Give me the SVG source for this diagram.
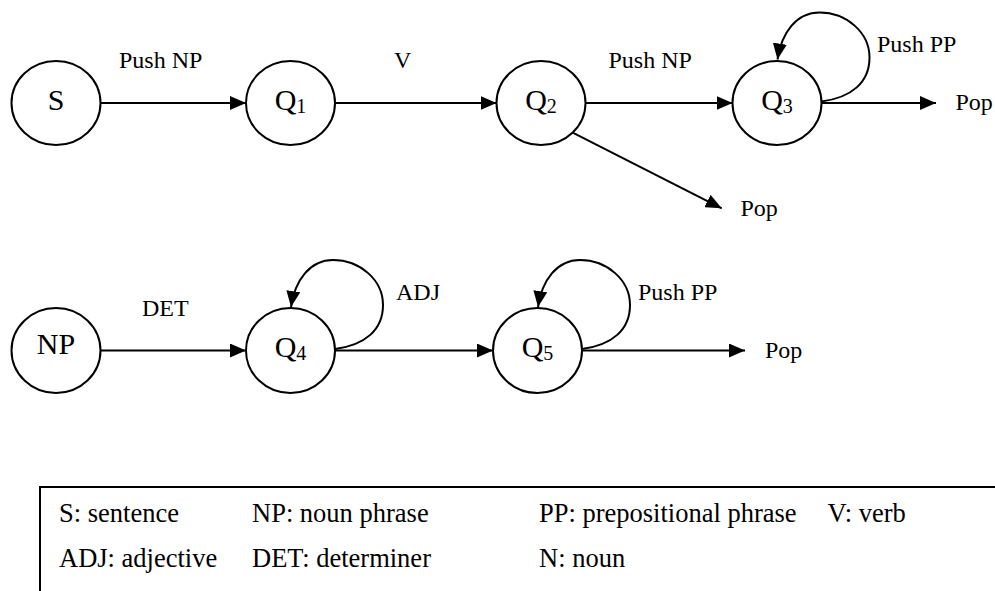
<svg xmlns="http://www.w3.org/2000/svg" width="995" height="591" viewBox="0 0 995 591">
<style>
  .node ellipse { fill: #fff; stroke: #000; stroke-width: 2; }
  .ntxt { font-size: 30px; fill: #000; text-anchor: middle; }
  .sub { font-size: 20px; }
  .edge { fill: none; stroke: #000; stroke-width: 2; marker-end: url(#arr); }
  .lbl { font-size: 24px; fill: #000; }
  .leg { font-size: 26.5px; fill: #000; }
  .box { fill: none; stroke: #000; stroke-width: 2; }
</style>
<defs>
  <marker id="arr" markerUnits="userSpaceOnUse" markerWidth="16" markerHeight="14" refX="16" refY="7" orient="auto">
    <path d="M0,0 L16,7 L0,14 Z" fill="#000"/>
  </marker>
</defs>
<rect width="995" height="591" fill="#fff"/>

<g id="connectors">
  <line class="edge" x1="100.5" y1="103" x2="246" y2="103"/>
  <line class="edge" x1="335" y1="103" x2="496.5" y2="103"/>
  <line class="edge" x1="585" y1="103" x2="732.5" y2="103"/>
  <line class="edge" x1="821.5" y1="103" x2="936" y2="103"/>
  <line class="edge" x1="572.7" y1="132.7" x2="721.7" y2="208.3"/>
  <path class="edge" d="M821.5,101.5 C851.5,97.5 869.5,82.5 869.5,57.5 C869.5,32.5 846.5,12.5 819.5,12.5 C796.5,12.5 781.5,32.5 777.5,59.5"/>
  <line class="edge" x1="101" y1="350.5" x2="246" y2="350.5"/>
  <line class="edge" x1="335" y1="350.5" x2="493" y2="350.5"/>
  <line class="edge" x1="582" y1="350.5" x2="745" y2="350.5"/>
  <path class="edge" d="M335,349 C365,345 383,330 383,305 C383,280 360,260 333,260 C310,260 295,280 291,307"/>
  <path class="edge" d="M582,349 C612,345 630,330 630,305 C630,280 607,260 580,260 C557,260 542,280 538,307"/>
</g>

<g id="labels" font-family="Liberation Serif, serif">
  <text class="lbl" x="119" y="68">Push NP</text>
  <text class="lbl" x="394" y="68">V</text>
  <text class="lbl" x="608.5" y="68">Push NP</text>
  <text class="lbl" x="877" y="52">Push PP</text>
  <text class="lbl" x="955.5" y="110">Pop</text>
  <text class="lbl" x="740.5" y="216">Pop</text>
  <text class="lbl" x="142" y="316">DET</text>
  <text class="lbl" x="396" y="300">ADJ</text>
  <text class="lbl" x="638" y="300">Push PP</text>
  <text class="lbl" x="765" y="358">Pop</text>
</g>

<g id="node-S" class="node" font-family="Liberation Serif, serif">
  <ellipse cx="56" cy="103" rx="44.5" ry="42"/>
  <text class="ntxt" x="56" y="110">S</text>
</g>
<g id="node-Q1" class="node" font-family="Liberation Serif, serif">
  <ellipse cx="290.5" cy="103" rx="44.5" ry="42"/>
  <text class="ntxt" x="290.5" y="110">Q<tspan class="sub" dy="3">1</tspan></text>
</g>
<g id="node-Q2" class="node" font-family="Liberation Serif, serif">
  <ellipse cx="541" cy="103" rx="44.5" ry="42"/>
  <text class="ntxt" x="541" y="110">Q<tspan class="sub" dy="3">2</tspan></text>
</g>
<g id="node-Q3" class="node" font-family="Liberation Serif, serif">
  <ellipse cx="777" cy="103" rx="44.5" ry="42"/>
  <text class="ntxt" x="777" y="110">Q<tspan class="sub" dy="3">3</tspan></text>
</g>
<g id="node-NP" class="node" font-family="Liberation Serif, serif">
  <ellipse cx="56" cy="350.5" rx="44.5" ry="42.5"/>
  <text class="ntxt" x="56" y="354" font-size="28">NP</text>
</g>
<g id="node-Q4" class="node" font-family="Liberation Serif, serif">
  <ellipse cx="290.5" cy="350.5" rx="44.5" ry="42.5"/>
  <text class="ntxt" x="290.5" y="357">Q<tspan class="sub" dy="3">4</tspan></text>
</g>
<g id="node-Q5" class="node" font-family="Liberation Serif, serif">
  <ellipse cx="537.5" cy="350.5" rx="44.5" ry="42.5"/>
  <text class="ntxt" x="537.5" y="357">Q<tspan class="sub" dy="3">5</tspan></text>
</g>

<g id="legend" font-family="Liberation Serif, serif">
  <path class="box" d="M40,591 L40,487 L995,487"/>
  <text class="leg" x="59" y="522">S: sentence</text>
  <text class="leg" x="252" y="522">NP: noun phrase</text>
  <text class="leg" x="539" y="522">PP: prepositional phrase</text>
  <text class="leg" x="827.5" y="522">V: verb</text>
  <text class="leg" x="59" y="567">ADJ: adjective</text>
  <text class="leg" x="252" y="567">DET: determiner</text>
  <text class="leg" x="539" y="567">N: noun</text>
</g>
</svg>
